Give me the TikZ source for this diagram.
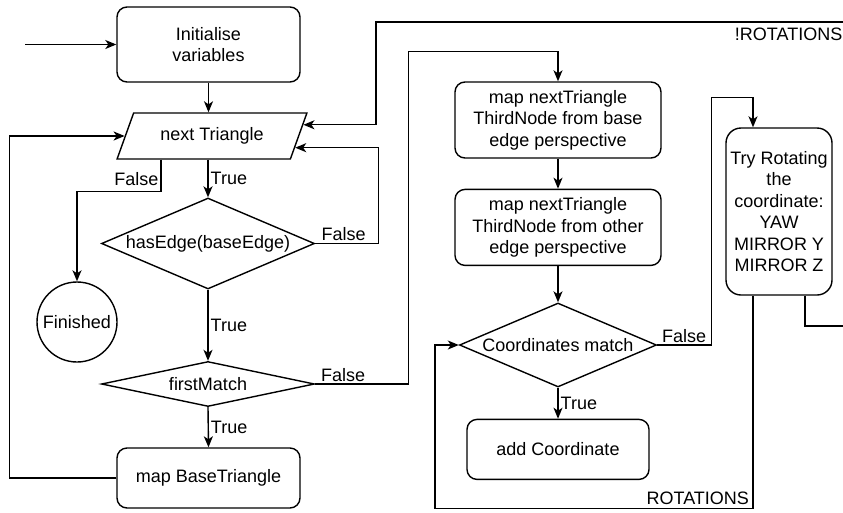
\documentclass[tikz,border=0pt]{standalone}
\usepackage{fontspec}
\setmainfont{Liberation Sans}
\usetikzlibrary{shapes.geometric, arrows.meta, positioning}

\begin{document}
\begin{tikzpicture}[
    x=1pt, y=-1pt,
    font=\fontsize{18}{21.5}\selectfont,
    line width=1.4pt,
    process_box/.style={rectangle, rounded corners=10pt, draw, align=center, inner sep=0pt},
    decision/.style={diamond, draw, inner sep=0pt},
    io_box/.style={trapezium, draw, trapezium left angle=57, trapezium right angle=123, trapezium stretches=true, inner sep=0pt},
    end_circle/.style={circle, draw, minimum size=80pt, inner sep=0pt},
    flow_arrow/.style={-{Stealth[length=11pt, width=9pt, inset=3pt]}},
    branch_label/.style={inner sep=2pt}
]
\useasboundingbox (0,0) rectangle (843,512);

% Main loop (left column)
\node (init_node) at (208.5,44.5) [process_box, minimum width=183pt, minimum height=75pt] {Initialise\\variables};
\node (next_node) at (212,136) [io_box, minimum width=190pt, minimum height=46pt] {next Triangle};
\node (edge_node) at (208,243.5) [decision, aspect=2.34, minimum width=213pt, minimum height=91pt] {hasEdge(baseEdge)};
\node (finished_node) at (77,322) [end_circle] {Finished};
\node (first_node) at (208,384) [decision, aspect=4.7, minimum width=213pt, minimum height=45pt] {firstMatch};
\node (base_node) at (208.5,478) [process_box, minimum width=183pt, minimum height=60pt] {map BaseTriangle};

% Third node mapping (right column)
\node (third_base_node) at (558,120) [process_box, minimum width=206pt, minimum height=76pt] {map nextTriangle\\ThirdNode from base\\edge perspective};
\node (third_other_node) [process_box, minimum width=206pt, minimum height=76pt, below=30pt of third_base_node] {map nextTriangle\\ThirdNode from other\\edge perspective};
\node (match_node) at (558,345) [decision, aspect=2.35, minimum width=197pt, minimum height=84pt] {Coordinates match};
\node (add_node) [process_box, minimum width=182pt, minimum height=60pt, below=31pt of match_node] {add Coordinate};
\node (rotate_node) at (779,211.5) [process_box, rounded corners=15pt, minimum width=106pt, minimum height=167pt] {Try Rotating\\the\\coordinate:\\YAW\\MIRROR Y\\MIRROR Z};

% Entry
\coordinate (start_point) at (25,44.5);
\draw[flow_arrow] (start_point) -- (init_node);

% Left column connections
\draw[flow_arrow] (init_node.south) -- (init_node.south |- next_node.north);
\draw[flow_arrow] (edge_node.north |- next_node.south) -- node[right, branch_label] {True} (edge_node.north);
\draw[flow_arrow] (next_node.205) -- ++(0,32) node[pos=0.6, left, branch_label] {False} -| (finished_node.north);
\draw[flow_arrow] (edge_node.east) -- ++(63,0) node[pos=0.45, above, branch_label] {False} |- (next_node.-8);
\draw[flow_arrow] (edge_node.south) -- node[right, branch_label] {True} (first_node.north);
\draw[flow_arrow] (first_node.south) -- node[right, branch_label] {True} (base_node.north);
\draw[flow_arrow] (base_node.west) -- ++(-107,0) |- (next_node.west);
\draw[flow_arrow] (first_node.east) -- ++(93,0) node[pos=0.3, above, branch_label] {False} |- ([yshift=30pt]third_base_node.north) -- (third_base_node.north);

% Right column connections
\draw[flow_arrow] (third_base_node) -- (third_other_node);
\draw[flow_arrow] (third_other_node) -- (match_node);
\draw[flow_arrow] (match_node) -- node[right, branch_label] {True} (add_node);
\draw[flow_arrow] (match_node.east) -- ++(54,0) node[midway, above, branch_label] {False} |- ([xshift=-26pt, yshift=30pt]rotate_node.north) -- ([xshift=-26pt]rotate_node.north);
\draw[flow_arrow] ([xshift=-26pt]rotate_node.south) -- ++(0,213) node[above left] {ROTATIONS} -| ([xshift=-24pt]match_node.west) -- (match_node.west);

% Leaves at the right edge, comes back at the top
\coordinate (exit_point) at (843,326);
\coordinate (entry_point) at (843,22);
\draw ([xshift=26pt]rotate_node.south) |- (exit_point);
\draw[flow_arrow] (entry_point) -- ++(-467,0) node[pos=0, below left, inner xsep=0pt, inner ysep=5pt] {!ROTATIONS} |- (next_node.7);

\end{tikzpicture}
\end{document}
